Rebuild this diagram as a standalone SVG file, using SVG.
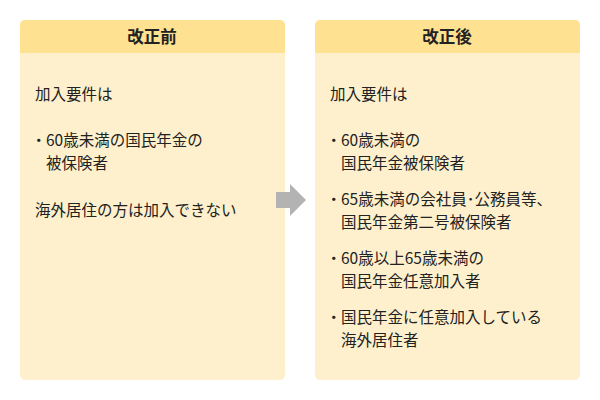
<svg xmlns="http://www.w3.org/2000/svg" width="600" height="400" viewBox="0 0 600 400">
<style>
.body{fill:#FEF0CC}
.head{fill:#FEE191}
text{font-family:"Noto Sans CJK JP",sans-serif;font-size:15.5px;fill:#222}
.t{font-size:16.5px;font-weight:bold;text-anchor:middle}
</style>
<rect width="600" height="400" fill="#fff"/>
<g id="before">
<rect class="body" x="20" y="20" width="265" height="360" rx="5"/>
<path class="head" d="M20,53 V25 a5,5 0 0 1 5,-5 H280 a5,5 0 0 1 5,5 V53 Z"/>
<text class="t" x="152" y="43">改正前</text>
<text x="35" y="100">加入要件は</text>
<text x="31" y="146">・<tspan x="46">60歳未満の国民年金の</tspan></text>
<text x="46" y="169">被保険者</text>
<text x="35" y="216">海外居住の方は加入できない</text>
</g>
<g id="connectors">
<polygon points="276,192 290,192 290,184 306,200 290,216 290,208 276,208" fill="#B3B3B3"/>
</g>
<g id="after">
<rect class="body" x="315" y="20" width="265" height="360" rx="5"/>
<path class="head" d="M315,53 V25 a5,5 0 0 1 5,-5 H575 a5,5 0 0 1 5,5 V53 Z"/>
<text class="t" x="447" y="43">改正後</text>
<text x="330" y="100">加入要件は</text>
<text x="326" y="146">・<tspan x="341">60歳未満の</tspan></text>
<text x="341" y="169">国民年金被保険者</text>
<text x="326" y="205">・<tspan x="341">65歳未満の会社員･公務員等、</tspan></text>
<text x="341" y="228">国民年金第二号被保険者</text>
<text x="326" y="264">・<tspan x="341">60歳以上65歳未満の</tspan></text>
<text x="341" y="287">国民年金任意加入者</text>
<text x="326" y="323">・<tspan x="341">国民年金に任意加入している</tspan></text>
<text x="341" y="346">海外居住者</text>
</g>
</svg>
